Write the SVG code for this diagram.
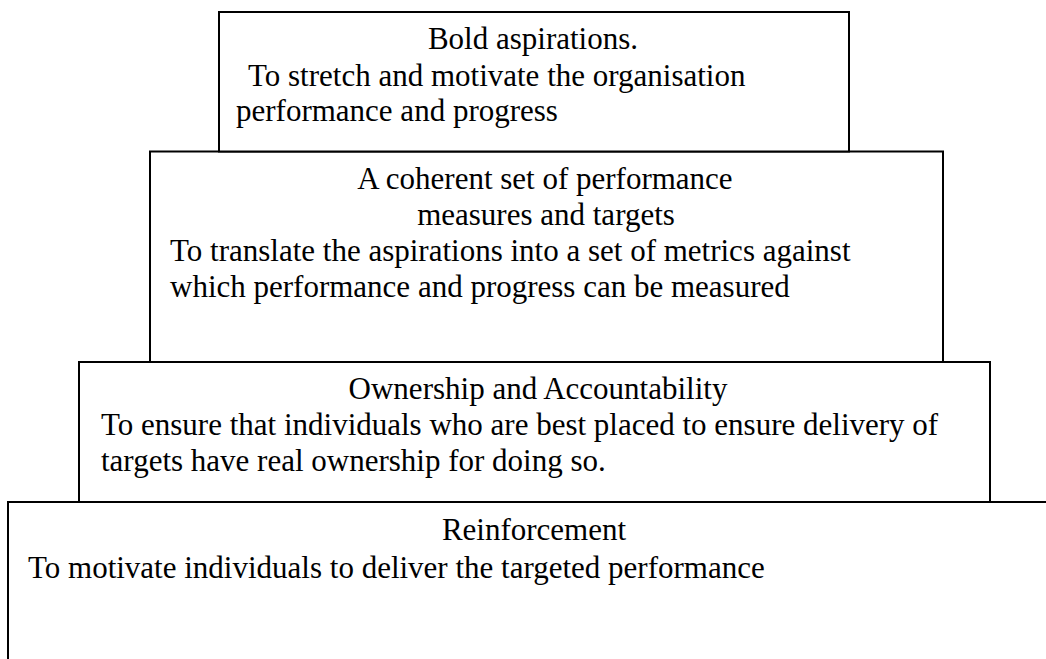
<svg xmlns="http://www.w3.org/2000/svg" width="1046" height="659" viewBox="0 0 1046 659">
  <style>
    .box { fill: #ffffff; stroke: #000000; stroke-width: 2; }
    .t { font-family: "Liberation Serif", "Times New Roman", serif; font-size: 31px; fill: #000000; }
    .c { text-anchor: middle; }
  </style>
  <rect width="1046" height="659" fill="#ffffff"/>

  <!-- bottom tier: runs off the right and lower edges -->
  <g id="reinforcement">
    <rect class="box" x="8" y="502" width="1080" height="200"/>
    <text class="t c" x="534" y="540">Reinforcement</text>
    <text class="t" x="28" y="578">To motivate individuals to deliver the targeted performance</text>
  </g>

  <g id="ownership">
    <rect class="box" x="79" y="362" width="911" height="140"/>
    <text class="t c" x="538" y="399">Ownership and Accountability</text>
    <text class="t" x="101" y="435">To ensure that individuals who are best placed to ensure delivery of</text>
    <text class="t" x="101" y="471">targets have real ownership for doing so.</text>
  </g>

  <g id="measures">
    <rect class="box" x="150" y="151.5" width="793" height="210.5"/>
    <text class="t c" x="545" y="189">A coherent set of performance</text>
    <text class="t c" x="546" y="225">measures and targets</text>
    <text class="t" x="170" y="261">To translate the aspirations into a set of metrics against</text>
    <text class="t" x="170" y="297">which performance and progress can be measured</text>
  </g>

  <g id="aspirations">
    <rect class="box" x="219" y="12" width="630" height="139.5"/>
    <text class="t c" x="533" y="49">Bold aspirations.</text>
    <text class="t" x="248" y="86">To stretch and motivate the organisation</text>
    <text class="t" x="236" y="121">performance and progress</text>
  </g>

  <!-- the tiers touch edge to edge; no separate connectors -->
  <g id="connectors"/>
</svg>
